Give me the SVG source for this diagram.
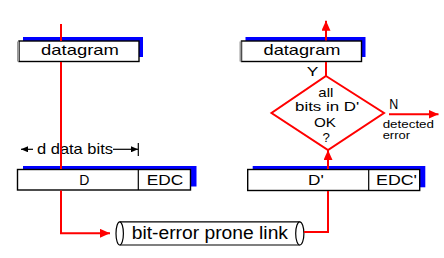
<svg xmlns="http://www.w3.org/2000/svg" width="444" height="258" viewBox="0 0 444 258">
<style>
text{font-family:"Liberation Sans",Arial,sans-serif;fill:#000}
.sh{fill:#0000ff}
.bx{fill:#fff;stroke:#000;stroke-width:1.4}
.gl{stroke:#9a9a9a;stroke-width:2}
.red{fill:none;stroke:#ff0000;stroke-width:2}
.blk{fill:none;stroke:#000;stroke-width:1.2}
.dt{font-size:12.4px}
</style>
<defs>
<marker id="ra" markerWidth="10" markerHeight="9" refX="10" refY="4.5" orient="auto" markerUnits="userSpaceOnUse"><path d="M0,0 L10,4.5 L0,9 z" fill="#ff0000"/></marker>
<marker id="ba" markerWidth="7" markerHeight="6" refX="7" refY="3" orient="auto" markerUnits="userSpaceOnUse"><path d="M0,0 L7,3 L0,6 z" fill="#000"/></marker>
</defs>
<g id="datagram-send">
<rect class="sh" x="23" y="37" width="120" height="20"/>
<rect class="bx" x="19" y="41" width="120" height="20.5"/>
<line class="gl" x1="18" y1="41.5" x2="18" y2="61.5"/>
<text x="41" y="54.8" font-size="15" textLength="78" lengthAdjust="spacingAndGlyphs">datagram</text>
</g>
<g id="datagram-recv">
<rect class="sh" x="245.5" y="37" width="120" height="20"/>
<rect class="bx" x="241.5" y="41" width="120" height="20.5"/>
<line class="gl" x1="240.5" y1="41.5" x2="240.5" y2="61.5"/>
<text x="263.5" y="54.8" font-size="15" textLength="77" lengthAdjust="spacingAndGlyphs">datagram</text>
</g>
<g id="frame-send">
<rect class="sh" x="23" y="166" width="173.5" height="20.5"/>
<rect class="bx" x="17.5" y="169.5" width="173" height="20.5"/>
<line class="blk" x1="138.3" y1="169.5" x2="138.3" y2="190"/>
<text x="84.2" y="185" font-size="14" text-anchor="middle">D</text>
<text x="146.7" y="185" font-size="14" textLength="36.5" lengthAdjust="spacingAndGlyphs">EDC</text>
</g>
<g id="frame-recv">
<rect class="sh" x="252.7" y="166" width="172.6" height="21.3"/>
<rect class="bx" x="247.7" y="169.5" width="172" height="21"/>
<line class="blk" x1="368.7" y1="169.5" x2="368.7" y2="190.5"/>
<text x="308" y="185" font-size="14" textLength="15.7" lengthAdjust="spacingAndGlyphs">D'</text>
<text x="376" y="185" font-size="14" textLength="41" lengthAdjust="spacingAndGlyphs">EDC'</text>
</g>
<g id="dimension">
<path class="blk" d="M33,149.3 H21" marker-end="url(#ba)"/>
<path class="blk" d="M113,149.3 H138" marker-end="url(#ba)"/>
<line class="blk" x1="138.3" y1="143" x2="138.3" y2="156"/>
<text x="37" y="154" font-size="14.5" textLength="76" lengthAdjust="spacingAndGlyphs">d data bits</text>
</g>
<g id="check">
<polygon points="326,76 384,113 328,150 271.5,113" fill="#fff" stroke="#ff0000" stroke-width="2"/>
<text class="dt" x="318.3" y="96.7" textLength="15" lengthAdjust="spacingAndGlyphs">all</text>
<text class="dt" x="295" y="110.7" textLength="64.3" lengthAdjust="spacingAndGlyphs">bits in D'</text>
<text class="dt" x="314" y="127.3" textLength="22" lengthAdjust="spacingAndGlyphs">OK</text>
<text class="dt" x="322.6" y="141.7" textLength="7.4" lengthAdjust="spacingAndGlyphs">?</text>
</g>
<g id="link">
<path d="M119.7,221.8 H299.8 V245 H119.7 Z" fill="#fff" stroke="none"/>
<path class="blk" d="M119.7,221.8 H299.8 M119.7,245 H299.8"/>
<ellipse cx="119.7" cy="233.4" rx="3.7" ry="11.6" fill="#fff" stroke="#000" stroke-width="1.2"/>
<ellipse cx="299.8" cy="233.4" rx="4.1" ry="11.6" fill="#fff" stroke="#000" stroke-width="1.2"/>
<text x="131.7" y="238.5" font-size="18" textLength="156.3" lengthAdjust="spacingAndGlyphs">bit-error prone link</text>
</g>
<g id="labels">
<text x="306.7" y="76" font-size="13" textLength="11.6" lengthAdjust="spacingAndGlyphs">Y</text>
<text x="389.3" y="109.3" font-size="14" textLength="9" lengthAdjust="spacingAndGlyphs">N</text>
<text x="382.7" y="128.3" font-size="11" textLength="51.3" lengthAdjust="spacingAndGlyphs">detected</text>
<text x="382.7" y="139.3" font-size="11" textLength="27.3" lengthAdjust="spacingAndGlyphs">error</text>
</g>
<g id="connectors">
<path class="red" d="M61,24 V41 M61,62 V169 M61,190.5 V233.3 H110" marker-end="url(#ra)"/>
<path class="red" d="M304,232 H328 V191 M328,169 V150" marker-end="url(#ra)"/>
<path class="red" d="M326,76 V62 M326,40.5 V20.7" marker-end="url(#ra)"/>
<path class="red" d="M389,114.3 H438.5" marker-end="url(#ra)"/>
</g>
</svg>
